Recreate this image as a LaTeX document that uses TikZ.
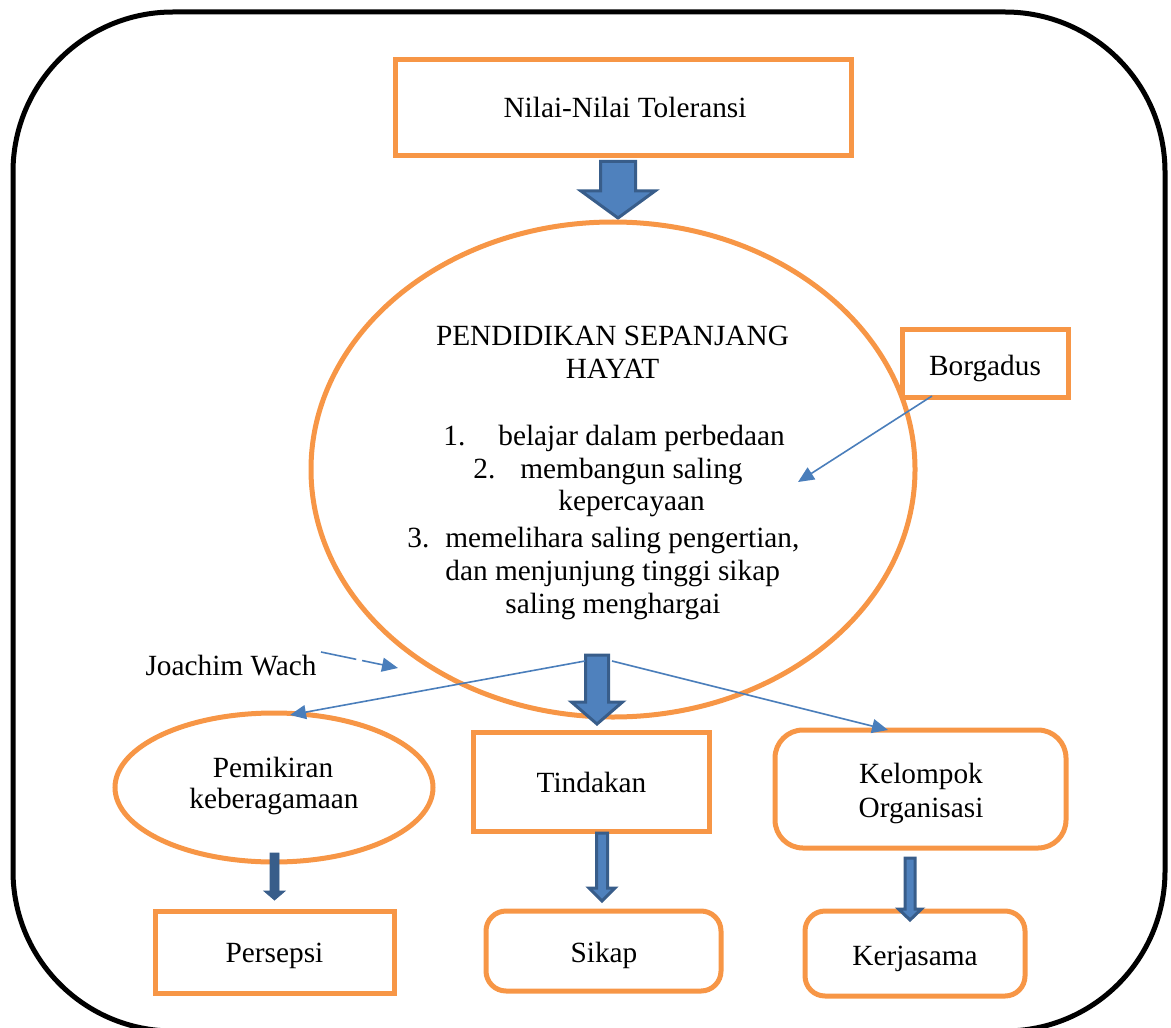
\documentclass[tikz,border=0pt]{standalone}
\usepackage{fontspec}
\setmainfont{Liberation Serif}
\usetikzlibrary{calc,arrows.meta,shapes.geometric}
\definecolor{orng}{HTML}{F79646}
\definecolor{lblue}{HTML}{4A7EBB}
\definecolor{afill}{HTML}{4F81BD}
\definecolor{adark}{HTML}{385D8A}
% #1 start, #2 tip, #3 shaft half width (px), #4 head half width (px), #5 head length (px), #6 style
\newcommand\blockarr[6]{%
  \path[#6] let \p1=(#1), \p2=(#2) in
  (\x1-#3*0.5pt,\y1) -- (\x1+#3*0.5pt,\y1) -- (\x1+#3*0.5pt,\y2+#5*0.5pt)
  -- (\x1+#4*0.5pt,\y2+#5*0.5pt) -- (\x1,\y2) -- (\x1-#4*0.5pt,\y2+#5*0.5pt)
  -- (\x1-#3*0.5pt,\y2+#5*0.5pt) -- cycle;}
\begin{document}
\begin{tikzpicture}[x=0.5pt,y=-0.5pt,
  every node/.style={font=\fontsize{14.65pt}{16.5pt}\selectfont},
  obox/.style={draw=orng,line width=2.5pt,rectangle,inner sep=0pt},
  rbox/.style={obox,rounded corners=#1},
  oell/.style={draw=orng,line width=2.5pt,ellipse,inner sep=0pt},
  txt/.style={inner sep=0pt,anchor=base},
  txtw/.style={inner sep=0pt,anchor=base west},
  bigarrow/.style={fill=afill,draw=adark,line width=1.5pt,line join=miter},
  smallarrow/.style={fill=afill,draw=adark,line width=1.5pt,line join=miter},
  darkarrow/.style={fill=adark,draw=adark,line width=0.4pt,line join=miter},
  thinarrow/.style={draw=lblue,line width=0.8pt,-{Triangle[length=8pt,width=7pt]}}]
\useasboundingbox (0,0) rectangle (1171,1027);
\begin{scope}
\clip (0,0) rectangle (1171,1027);
\draw[line width=2.5pt,rounded corners=80pt] (13,12) rectangle (1165,1031);
\end{scope}

% boxes
\node[obox,minimum width=228pt,minimum height=48pt] (top) at (623,108) {};
\coordinate (a1s) at (618,161.5);
\coordinate (a1e) at (618,218);
\blockarr{a1s}{a1e}{17.5}{37}{27}{bigarrow}
\node[oell,minimum width=302pt,minimum height=247.5pt] (big) at (613,469.5) {};
\node[obox,minimum width=83pt,minimum height=34pt] (borg) at (985,363) {};
\node[oell,minimum width=159pt,minimum height=74.5pt] (pem) at (274,787.5) {};
\node[obox,minimum width=118pt,minimum height=49.5pt] (tin) at (591,781.5) {};
\node[rbox=14pt,minimum width=145.5pt,minimum height=59pt] (kel) at (920.5,789) {};
\node[obox,minimum width=119.5pt,minimum height=41pt] (per) at (274.5,952) {};
\node[rbox=10pt,minimum width=117.5pt,minimum height=40pt] (sik) at (603.5,951) {};
\node[rbox=10pt,minimum width=110pt,minimum height=42.5pt] (ker) at (915,953.5) {};

% block arrows
\coordinate (a2s) at (597,655);
\coordinate (a2e) at (597,724);
\blockarr{a2s}{a2e}{11.5}{25.5}{22}{bigarrow}
\coordinate (a3s) at (602,833);
\coordinate (a3e) at (602,901);
\blockarr{a3s}{a3e}{5.5}{13}{13}{smallarrow}
\coordinate (a4s) at (910,858);
\coordinate (a4e) at (910,920);
\blockarr{a4s}{a4e}{5}{11.5}{11}{smallarrow}
\coordinate (a5s) at (274.5,853);
\coordinate (a5e) at (274.5,900);
\blockarr{a5s}{a5e}{4.5}{10.5}{9}{darkarrow}

% thin arrows
\coordinate (bs) at (932,396);
\coordinate (be) at (798,482);
\draw[thinarrow] (bs) -- (be);
\coordinate (js) at (321,652);
\coordinate (je) at (398,668);
\draw[thinarrow,dash pattern=on 18pt off 3pt] (js) -- (je);
\coordinate (ls) at (585,661);
\coordinate (le) at (290,715);
\draw[thinarrow] (ls) -- (le);
\coordinate (rs) at (612,661);
\coordinate (re) at (888,730);
\draw[thinarrow] (rs) -- (re);

% texts
\node[txt] (t0) at (625,118) {Nilai-Nilai Toleransi};
\node[txt] (t1) at (612.5,345) {PENDIDIKAN SEPANJANG};
\node[txt] (t2) at (612.5,378) {HAYAT};
\node[txtw] (n1) at (443,445) {1.};
\node[txtw] (t3) at (498,445) {belajar dalam perbedaan};
\node[txtw] (n2) at (473,478) {2.};
\node[txtw] (t4) at (520,478) {membangun saling};
\node[txtw] (t5) at (558,510) {kepercayaan};
\node[txtw] (n3) at (407,547) {3.};
\node[txtw] (t6) at (445,547) {memelihara saling pengertian,};
\node[txtw] (t7) at (445,580) {dan menjunjung tinggi sikap};
\node[txtw] (t8) at (505,613) {saling menghargai};
\node[txt] (tb) at (985,375) {Borgadus};
\node[txt] (tj) at (231,675) {Joachim Wach};
\node[txt] (tp1) at (273,777) {Pemikiran};
\node[txt] (tp2) at (274,808) {keberagamaan};
\node[txt] (tt) at (591.5,792) {Tindakan};
\node[txt] (tk1) at (921,783) {Kelompok};
\node[txt] (tk2) at (921,817) {Organisasi};
\node[txt] (tpe) at (274.5,962) {Persepsi};
\node[txt] (ts) at (604,962) {Sikap};
\node[txt] (tke) at (915,965) {Kerjasama};
\end{tikzpicture}
\end{document}
